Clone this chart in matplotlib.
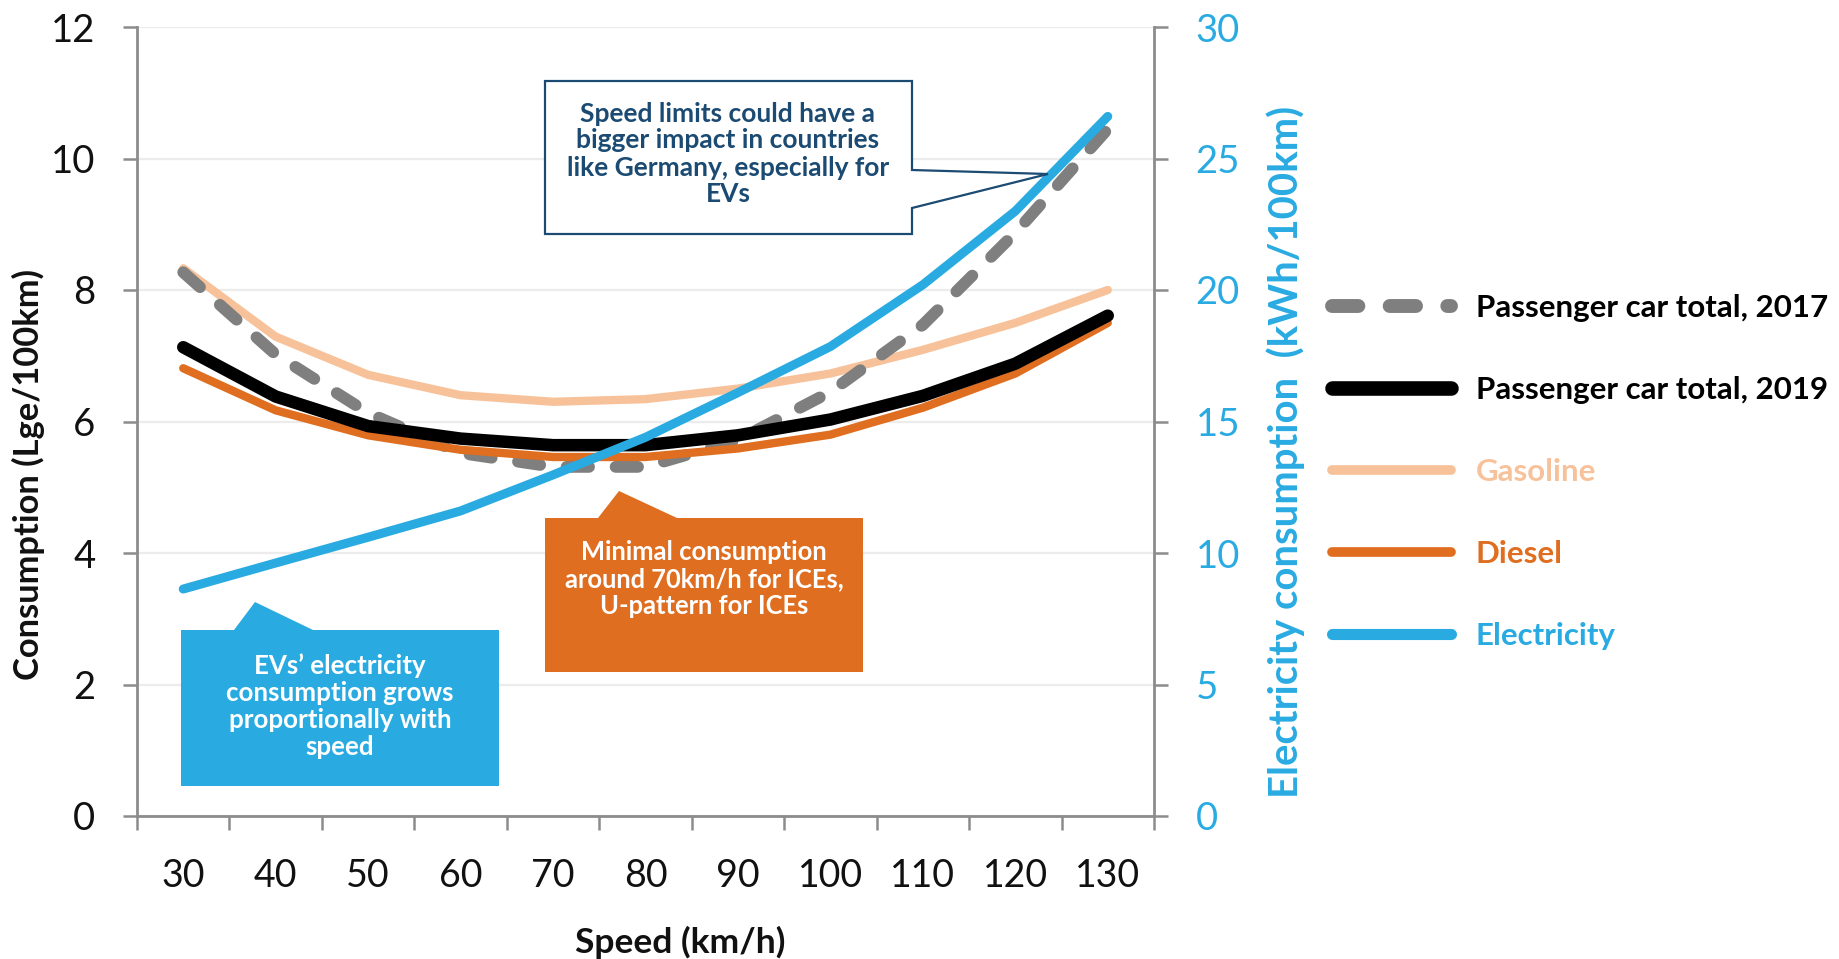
import matplotlib
matplotlib.use("Agg")
import matplotlib.pyplot as plt
from matplotlib.patches import Polygon

plt.rcParams["font.family"] = ["Lato", "DejaVu Sans"]

# ---- data -------------------------------------------------------------
speeds = [30, 40, 50, 60, 70, 80, 90, 100, 110, 120, 130]
total_2017 = [8.27, 7.02, 6.13, 5.52, 5.31, 5.31, 5.72, 6.45, 7.47, 8.87, 10.45]
total_2019 = [7.13, 6.38, 5.93, 5.74, 5.64, 5.64, 5.79, 6.03, 6.39, 6.88, 7.61]
gasoline = [8.33, 7.29, 6.71, 6.40, 6.30, 6.34, 6.50, 6.73, 7.09, 7.50, 8.00]
diesel = [6.81, 6.17, 5.79, 5.57, 5.46, 5.46, 5.59, 5.80, 6.21, 6.73, 7.50]
electricity = [8.63, 9.62, 10.6, 11.6, 12.97, 14.4, 16.1, 17.85, 20.2, 23.0, 26.6]

left_ticks = [0, 2, 4, 6, 8, 10, 12]
right_ticks = [0, 5, 10, 15, 20, 25, 30]

series_labels = ["Passenger car total, 2017", "Passenger car total, 2019",
                 "Gasoline", "Diesel", "Electricity"]

# ---- styling ----------------------------------------------------------
GRAY = "#7f7f7f"
BLACK = "#000000"
GAS = "#f7c29a"
DIESEL = "#df6e21"
BLUE = "#29abe2"
NAVY = "#1b4a72"
AXIS = "#8c8c8c"

W, H = 1839, 959
fig = plt.figure(figsize=(W / 100, H / 100), dpi=100)


def fx(x):
    return x / W


def fy(y):
    return 1 - y / H


ax = fig.add_axes([fx(137), fy(816), (1154 - 137) / W, (816 - 27) / H])
ax2 = ax.twinx()

idx = list(range(len(speeds)))

l17, = ax.plot(idx, total_2017, color=GRAY, lw=8.5, dashes=(1.9, 2.25),
               dash_capstyle="round", solid_capstyle="round", zorder=3)
l19, = ax.plot(idx, total_2019, color=BLACK, lw=9, solid_capstyle="round",
               solid_joinstyle="round", zorder=4)
lgas, = ax.plot(idx, gasoline, color=GAS, lw=6, solid_capstyle="round",
                solid_joinstyle="round", zorder=2)
ldie, = ax.plot(idx, diesel, color=DIESEL, lw=6, solid_capstyle="round",
                solid_joinstyle="round", zorder=3.5)
lel, = ax2.plot(idx, electricity, color=BLUE, lw=6.5, solid_capstyle="round",
                solid_joinstyle="round", zorder=5)

# ---- axes -------------------------------------------------------------
ax.set_xlim(-0.5, len(speeds) - 0.5)
ax.set_ylim(0, 12)
ax2.set_ylim(0, 30)

ax.set_xticks(idx)
ax.set_xticklabels([str(s) for s in speeds])
ax.set_xticks([i - 0.5 for i in range(len(speeds) + 1)], minor=True)
ax.tick_params(axis="x", which="major", length=0, pad=30, labelsize=27,
               labelcolor="#111111")
ax.tick_params(axis="x", which="minor", length=10, width=1.8, color=AXIS)

ax.set_yticks(left_ticks)
ax.tick_params(axis="y", which="major", length=10, width=1.8, color=AXIS,
               pad=20, labelsize=27.5, labelcolor="#111111")
ax2.set_yticks(right_ticks)
ax2.tick_params(axis="y", which="major", length=10, width=1.8, color=AXIS,
                pad=20, labelsize=27.5, labelcolor=BLUE)

ax.yaxis.grid(True, color="#ececec", lw=1.6, zorder=0)
ax.set_axisbelow(True)

for a in (ax, ax2):
    a.spines["top"].set_visible(False)
    a.patch.set_visible(False)
ax2.spines["left"].set_visible(False)
ax2.spines["bottom"].set_visible(False)
ax.spines["right"].set_visible(False)
for s in ("left", "bottom"):
    ax.spines[s].set_color(AXIS)
    ax.spines[s].set_linewidth(2)
ax2.spines["right"].set_color(AXIS)
ax2.spines["right"].set_linewidth(2)

# axis titles
fig.text(fx(28), fy(474), "Consumption (Lge/100km)", rotation=90,
         ha="center", va="center", fontsize=24.8, fontweight="bold",
         color="#111111")
fig.text(fx(1286), fy(452), "Electricity consumption  (kWh/100km)",
         rotation=90, ha="center", va="center", fontsize=28.8,
         fontweight="bold", color=BLUE)
fig.text(fx(680), fy(942), "Speed (km/h)", ha="center", va="center",
         fontsize=25.5, fontweight="bold", color="#111111")

# ---- legend -----------------------------------------------------------
leg = ax.legend([l17, l19, lgas, ldie, lel], series_labels,
                loc="center left", bbox_to_anchor=(fx(1332), fy(472)),
                bbox_transform=fig.transFigure, frameon=False,
                handlelength=3.8, handletextpad=0.8,
                labelspacing=1.73, borderpad=0, borderaxespad=0,
                prop={"weight": "bold", "size": 22.5})
for txt, c in zip(leg.get_texts(), [BLACK, BLACK, GAS, DIESEL, BLUE]):
    txt.set_color(c)
for line, w in zip(leg.get_lines(), [10, 10.5, 7, 7, 8]):
    line.set_linewidth(w)
    line.set_solid_capstyle("round")
    line.set_dash_capstyle("round")


# ---- callouts ---------------------------------------------------------
def callout(points, face, edge, lw):
    poly = Polygon([(fx(x), fy(y)) for x, y in points], closed=True,
                   transform=fig.transFigure, facecolor=face,
                   edgecolor=edge, lw=lw, joinstyle="miter", zorder=6)
    fig.add_artist(poly)


callout([(545, 81), (912, 81), (912, 170), (1048, 174), (912, 208),
         (912, 234), (545, 234)], "white", NAVY, 1.6)
fig.text(fx(728), fy(154),
         "Speed limits could have a\nbigger impact in countries\n"
         "like Germany, especially for\nEVs",
         ha="center", va="center", fontsize=19, fontweight="bold",
         color=NAVY, linespacing=1.15, zorder=7)

callout([(545, 518), (598, 518), (619, 491), (677, 518), (863, 518),
         (863, 672), (545, 672)], DIESEL, "none", 0)
fig.text(fx(704), fy(579),
         "Minimal consumption\naround 70km/h for ICEs,\nU-pattern for ICEs",
         ha="center", va="center", fontsize=18.4, fontweight="bold",
         color="white", linespacing=1.15, zorder=7)

callout([(181, 630), (234, 630), (255, 602), (313, 630), (499, 630),
         (499, 786), (181, 786)], BLUE, "none", 0)
fig.text(fx(340), fy(706),
         "EVs\u2019 electricity\nconsumption grows\nproportionally with\nspeed",
         ha="center", va="center", fontsize=18.6, fontweight="bold",
         color="white", linespacing=1.15, zorder=7)

fig.savefig("out.png", dpi=100, facecolor="white")
